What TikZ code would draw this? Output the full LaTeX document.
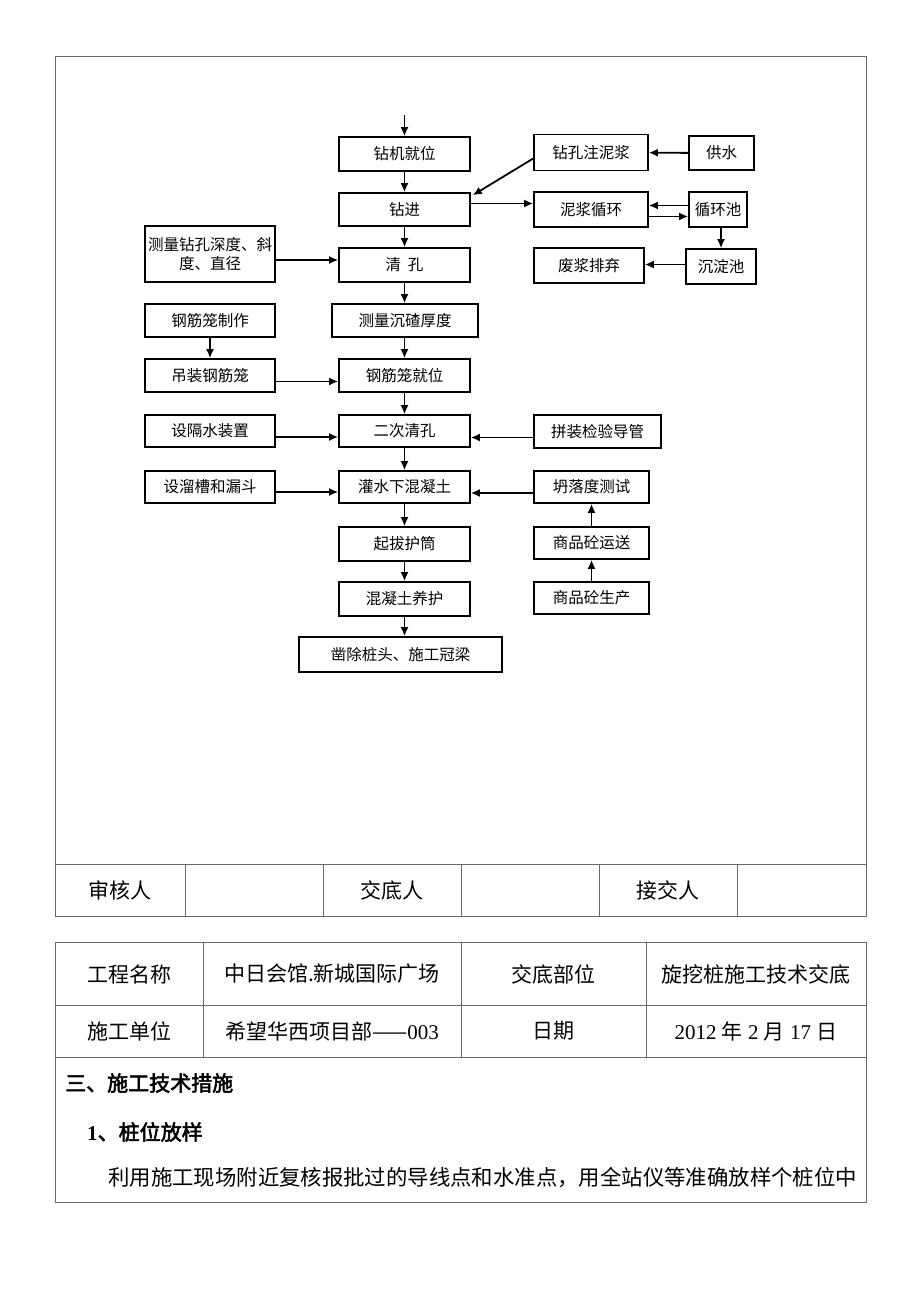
\documentclass[tikz,border=0pt]{standalone}
\usepackage{fontspec}
\setmainfont{Liberation Serif}
\newfontfamily\cjk{Noto Sans CJK SC}[AutoFakeBold=2.5]
\usetikzlibrary{arrows.meta}
\definecolor{tablegray}{RGB}{105,105,105}

\begin{document}
\begin{tikzpicture}[x=1pt,y=-1pt,>={Latex[length=9,width=8]},
    box/.style={draw,line width=1.6pt,minimum width=131,minimum height=34,
      inner sep=0pt,align=center,font=\cjk\fontsize{15.5}{19}\selectfont},
    flow/.style={->,line width=1.8pt},
    grid/.style={draw=tablegray,line width=1pt},
    cell/.style={inner sep=0pt,font=\fontsize{21}{25}\selectfont}]
    \useasboundingbox (0,0) rectangle (920,1302);

    % main column
    \coordinate (start) at (404.5,115);
    \node[box] (zjjw) at (404.5,154) {钻机就位};
    \node[box,minimum height=33] (zj) at (404.5,209.5) {钻进};
    \node[box] (qk) at (404.5,265) {清\ \ 孔};
    \node[box,minimum width=146,minimum height=33] (clcz) at (405,320.5) {测量沉碴厚度};
    \node[box,minimum height=33] (gjljw) at (404.5,375.5) {钢筋笼就位};
    \node[box,minimum height=32] (ecqk) at (404.5,431) {二次清孔};
    \node[box,minimum height=32] (gsxhnt) at (404.5,487) {灌水下混凝土};
    \node[box] (qbht) at (404.5,544) {起拔护筒};
    \node[box] (hntyh) at (404.5,599) {混凝土养护};
    \node[box,minimum width=203,minimum height=35] (zczt) at (400.5,654.5) {凿除桩头、施工冠梁};

    % left column
    \node[box,minimum width=130,minimum height=56] (clzk) at (210,254) {测量钻孔深度、斜\\度、直径};
    \node[box,minimum width=130,minimum height=33] (gjlzz) at (210,320.5) {钢筋笼制作};
    \node[box,minimum width=130,minimum height=33] (dzgjl) at (210,375.5) {吊装钢筋笼};
    \node[box,minimum width=130,minimum height=32] (sgszz) at (210,431) {设隔水装置};
    \node[box,minimum width=130,minimum height=32] (slchld) at (210,487) {设溜槽和漏斗};

    % right column
    \node[box,minimum width=114,minimum height=36] (zkznj) at (591,152.5) {钻孔注泥浆};
    \node[box,minimum width=65] (gs) at (721.5,153) {供水};
    \node[box,minimum width=114,minimum height=35] (njxh) at (591,209.5) {泥浆循环};
    \node[box,minimum width=58,minimum height=35] (xhc) at (718,209.5) {循环池};
    \node[box,minimum width=110,minimum height=35] (fjpq) at (589,265.5) {废浆排弃};
    \node[box,minimum width=70,minimum height=35] (cdc) at (721,266.5) {沉淀池};
    \node[box,minimum width=127,minimum height=33] (pzjydg) at (597.5,431.5) {拼装检验导管};
    \node[box,minimum width=115,minimum height=32] (tldcs) at (591.5,487) {坍落度测试};
    \node[box,minimum width=115,minimum height=32] (spthys) at (591.5,543) {商品砼运送};
    \node[box,minimum width=115,minimum height=32] (spthsc) at (591.5,598) {商品砼生产};

    % main flow
    \draw[flow] (start) -- (zjjw);
    \draw[flow] (zjjw) -- (zj);
    \draw[flow] (zj) -- (qk);
    \draw[flow] (qk) -- (qk.south |- clcz.north);
    \draw[flow] (clcz.south -| gjljw.north) -- (gjljw);
    \draw[flow] (gjljw) -- (ecqk);
    \draw[flow] (ecqk) -- (gsxhnt);
    \draw[flow] (gsxhnt) -- (qbht);
    \draw[flow] (qbht) -- (hntyh);
    \draw[flow] (hntyh) -- (hntyh.south |- zczt.north);

    % mud circuit
    \draw[flow] (gs) -- (zkznj);
    \draw[flow] ([yshift=-6]zkznj.west) -- ([shift={(2,3)}]zj.north east);
    \draw[flow] ([yshift=6]zj.east) -- ([yshift=6]zj.east -| njxh.west);
    \draw[flow] ([yshift=4]xhc.west) -- ([yshift=4]xhc.west -| njxh.east);
    \draw[flow] ([yshift=-7]njxh.east) -- ([yshift=-7]njxh.east -| xhc.west);
    \draw[flow] (xhc.south -| cdc.north) -- (cdc);
    \draw[flow] ([yshift=2]cdc.west) -- ([yshift=2]cdc.west -| fjpq.east);

    % side inputs
    \draw[flow] ([yshift=5]qk.west -| clzk.east) -- ([yshift=5]qk.west);
    \draw[flow] (gjlzz) -- (dzgjl);
    \draw[flow] ([yshift=-6]dzgjl.east) -- ([yshift=-6]gjljw.west);
    \draw[flow] ([yshift=-6]sgszz.east) -- ([yshift=-6]ecqk.west);
    \draw[flow] ([yshift=-5]slchld.east) -- ([yshift=-5]gsxhnt.west);
    \draw[flow] ([yshift=-6]pzjydg.west) -- ([yshift=-6]pzjydg.west -| ecqk.east);
    \draw[flow] ([yshift=-6]tldcs.west) -- ([yshift=-6]gsxhnt.east);
    \draw[flow] (spthsc) -- (spthys);
    \draw[flow] (spthys) -- (tldcs);

    % sign-off table
    \draw[grid] (55,56) rectangle (866,916);
    \draw[grid] (55,864) -- (866,864);
    \foreach \x in {185,323,461,599,737}
      \draw[grid] (\x,864) -- (\x,916);
    \node[cell] (shr) at (120,890) {\cjk 审核人};
    \node[cell] (jdr) at (392,890) {\cjk 交底人};
    \node[cell] (jjr) at (668,890) {\cjk 接交人};

    % header table
    \draw[grid] (55,942) rectangle (866,1202);
    \draw[grid] (55,1005) -- (866,1005);
    \draw[grid] (55,1057) -- (866,1057);
    \foreach \x in {203,461,646}
      \draw[grid] (\x,942) -- (\x,1057);
    \node[cell] (gcmc) at (129,974) {\cjk 工程名称};
    \node[cell] (gcmcv) at (332,974) {\cjk 中日会馆.新城国际广场};
    \node[cell] (jdbw) at (553.5,974) {\cjk 交底部位};
    \node[cell] (jdbwv) at (756,974) {\cjk 旋挖桩施工技术交底};
    \node[cell] (sgdw) at (129,1031) {\cjk 施工单位};
    \node[cell] (sgdwv) at (332,1031) {{\cjk 希望华西项目部——}003};
    \node[cell] (rq) at (553.5,1031) {\cjk 日期};
    \node[cell] (rqv) at (756,1031) {2012 {\cjk 年} 2 {\cjk 月} 17 {\cjk 日}};

    \node[cell,anchor=west] (h3) at (65,1083) {\cjk\bfseries 三、施工技术措施};
    \node[cell,anchor=west] (h31) at (87,1132) {\bfseries 1{\cjk 、桩位放样}};
    \node[cell,anchor=west,font=\fontsize{21.4}{25}\selectfont] (p1) at (108,1178) {\cjk 利用施工现场附近复核报批过的导线点和水准点，用全站仪等准确放样个桩位中};
\end{tikzpicture}
\end{document}
